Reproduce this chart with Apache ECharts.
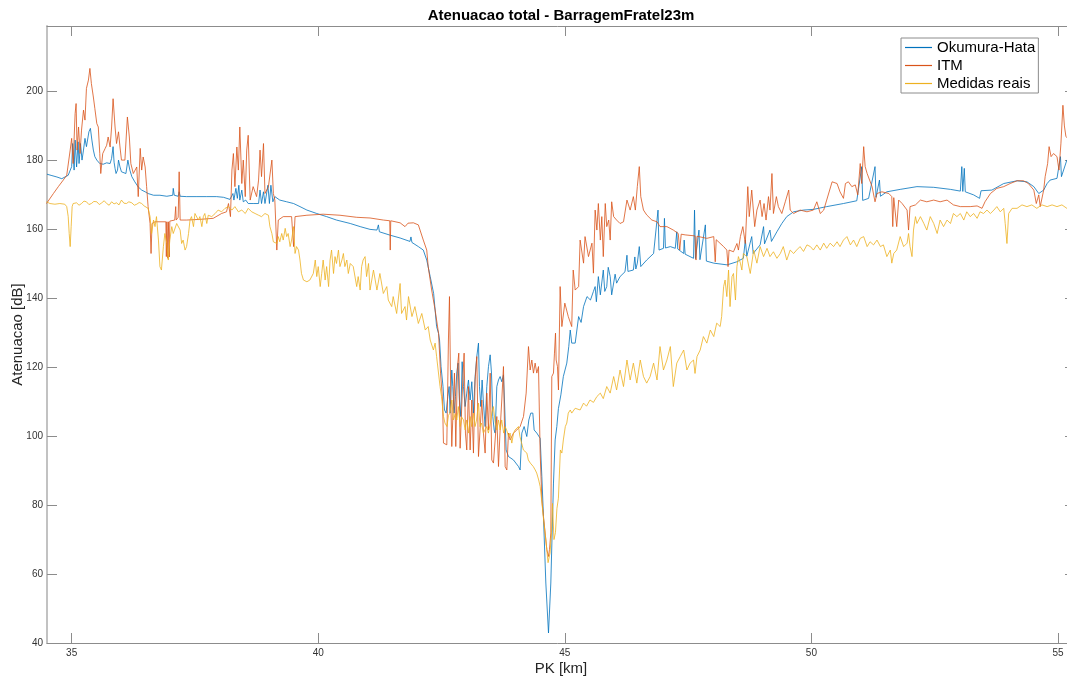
<!DOCTYPE html>
<html>
<head>
<meta charset="utf-8">
<script src="https://cdn.jsdelivr.net/npm/echarts@6/dist/echarts.min.js"></script>
<style>
html,body{margin:0;padding:0;background:#fff;}
#chart{width:1067px;height:680px;}
</style>
</head>
<body>
<div id="chart"></div>
<script>
// ---------------- data: [PK km, attenuation dB] ----------------
const okumuraHata = [
[34.50,176.0],[34.60,175.6],[34.70,175.2],[34.80,174.7],[34.93,175.7],[35.00,178.2],[35.02,184.9],[35.05,177.2],[35.07,185.9],[35.10,178.1],[35.13,185.4],[35.15,179.1],[35.18,184.9],[35.21,180.1],[35.24,183.0],[35.27,186.4],[35.30,184.0],[35.35,188.3],[35.38,189.3],[35.41,185.9],[35.44,183.0],[35.47,181.1],[35.51,180.1],[35.54,179.6],[35.57,179.1],[35.64,178.9],[35.71,179.3],[35.78,179.1],[35.81,180.6],[35.84,184.0],[35.86,179.5],[35.88,177.7],[35.90,176.2],[35.93,177.2],[35.95,180.1],[35.98,178.1],[36.01,176.7],[36.05,177.2],[36.10,176.2],[36.14,180.1],[36.18,177.2],[36.22,175.3],[36.28,173.8],[36.35,172.3],[36.42,171.4],[36.49,170.9],[36.55,170.4],[36.66,169.9],[36.79,169.9],[36.93,169.6],[37.05,169.9],[37.06,171.9],[37.08,169.9],[37.16,169.6],[37.18,170.9],[37.20,169.6],[37.33,169.5],[37.54,169.5],[37.74,169.5],[37.94,169.5],[38.08,169.3],[38.21,168.7],[38.27,170.4],[38.29,168.5],[38.33,171.9],[38.36,169.0],[38.39,172.8],[38.41,168.5],[38.45,171.4],[38.48,168.0],[38.53,168.5],[38.58,167.5],[38.68,167.5],[38.79,167.5],[38.82,171.4],[38.85,167.5],[38.89,170.9],[38.92,167.5],[38.98,172.8],[39.01,167.5],[39.04,172.8],[39.08,168.0],[39.12,169.5],[39.22,168.5],[39.36,168.0],[39.50,167.5],[39.63,166.6],[39.77,165.6],[39.97,164.6],[40.17,163.7],[40.37,162.7],[40.65,161.7],[40.85,160.8],[41.05,160.0],[41.19,159.8],[41.22,161.3],[41.24,159.3],[41.46,158.3],[41.66,157.5],[41.86,156.5],[41.88,157.8],[41.90,156.2],[42.03,155.0],[42.13,154.0],[42.20,151.1],[42.27,146.3],[42.34,141.4],[42.37,136.6],[42.40,131.8],[42.44,129.8],[42.46,127.9],[42.49,120.2],[42.53,114.4],[42.56,107.6],
[42.593,106.7],[42.627,111.5],[42.654,114.4],[42.674,106.7],[42.708,119.2],[42.728,114.4],[42.755,106.7],[42.782,111.5],[42.809,118.3],[42.836,121.2],[42.863,110.5],[42.891,105.7],[42.918,121.6],[42.945,114.4],[42.978,108.6],[43.012,112.5],[43.046,116.3],[43.080,110.5],[43.114,115.8],[43.147,106.7],[43.181,117.3],[43.215,123.1],[43.249,127.0],[43.269,114.4],[43.296,108.6],[43.323,116.3],[43.350,109.6],[43.384,102.8],[43.418,114.4],[43.452,120.2],[43.486,123.6],[43.513,118.3],[43.540,105.7],[43.567,101.8],[43.587,100.9],[43.621,114.4],[43.655,116.3],[43.688,117.3],[43.722,115.8],[43.756,117.8],[43.776,110.5],[43.810,96.0],[43.857,94.1],[43.959,93.1],[44.060,91.2],[44.094,90.2],[44.128,100.9],[44.175,102.8],[44.229,99.9],[44.270,104.7],[44.310,106.7],[44.351,106.7],[44.378,101.8],[44.432,100.9],[44.500,99.4],[44.534,88.3],[44.567,76.7],[44.615,57.4],[44.669,42.9],[44.716,57.4],[44.750,75.7],[44.770,86.4],[44.804,98.9],[44.838,102.8],[44.87,108.0],[44.92,112.0],[44.97,117.3],[45.04,121.2],[45.08,126.0],[45.11,130.8],[45.14,127.0],[45.21,127.0],[45.28,134.7],[45.33,133.0],[45.38,137.6],[45.45,140.5],[45.52,139.5],[45.58,142.0],[45.615,143.4],[45.64,139.0],[45.68,146.3],[45.72,141.0],[45.75,140.5],[45.78,148.2],[45.81,142.0],[45.85,143.4],[45.88,149.0],[45.92,146.3],[45.95,141.0],[45.99,140.5],[46.02,147.0],[46.05,144.4],[46.12,146.3],[46.22,147.7],[46.26,152.5],[46.28,147.8],[46.39,148.2],[46.42,152.0],[46.44,148.5],[46.47,150.2],[46.51,155.0],[46.54,149.2],[46.66,151.1],[46.80,153.0],[46.89,165.6],[46.91,154.0],[47.00,154.5],[47.02,163.2],[47.04,154.6],[47.14,155.0],[47.24,154.5],[47.27,159.3],[47.29,154.3],[47.41,153.0],[47.42,156.9],[47.44,152.8],[47.61,151.6],[47.63,165.6],[47.65,151.5],[47.72,159.8],[47.74,151.2],[47.85,161.3],[47.87,150.8],[48.02,150.2],[48.29,149.7],[48.49,150.6],[48.62,151.6],[48.66,156.9],[48.69,152.2],[48.73,152.6],[48.79,157.9],[48.82,153.0],[48.86,153.5],[48.96,155.5],[49.03,160.8],[49.05,155.8],[49.08,155.9],[49.16,159.8],[49.19,156.5],[49.23,156.9],[49.30,159.3],[49.40,161.7],[49.50,163.7],[49.64,165.1],[49.84,165.6],[50.04,165.8],[50.31,166.6],[50.65,167.5],[50.92,168.3],[51.02,178.2],[51.04,168.4],[51.16,169.0],[51.29,178.2],[51.31,169.3],[51.38,174.3],[51.40,169.6],[51.53,170.9],[51.80,171.6],[52.14,172.4],[52.48,172.2],[52.82,171.6],[53.02,171.1],[53.05,178.2],[53.07,171.0],[53.10,177.7],[53.12,170.9],[53.29,170.0],[53.41,169.0],[53.44,171.2],[53.66,171.4],[53.90,173.3],[54.17,174.1],[54.37,173.8],[54.51,172.4],[54.61,170.4],[54.71,171.4],[54.78,173.3],[54.84,174.3],[54.98,174.8],[55.05,181.1],[55.07,175.3],[55.18,180.1],[55.30,181.0]
];

const itm = [
[34.49,167.5],[34.63,170.4],[34.73,172.4],[34.83,174.3],[34.90,175.7],[34.97,183.0],[35.00,186.4],[35.03,179.1],[35.07,193.6],[35.09,196.5],[35.11,183.0],[35.14,189.7],[35.17,182.0],[35.20,188.8],[35.24,194.6],[35.27,191.7],[35.30,200.9],[35.34,203.3],[35.37,206.7],[35.40,202.3],[35.44,198.4],[35.47,195.1],[35.51,190.7],[35.54,189.7],[35.57,182.0],[35.59,176.2],[35.63,182.0],[35.68,183.5],[35.71,184.4],[35.74,186.8],[35.78,183.9],[35.81,189.7],[35.84,197.9],[35.88,189.7],[35.91,184.9],[35.95,188.3],[35.98,183.9],[36.01,180.1],[36.08,180.1],[36.13,192.6],[36.17,186.8],[36.20,179.1],[36.25,176.2],[36.32,178.1],[36.35,169.5],[36.39,183.5],[36.42,177.2],[36.45,181.0],[36.49,178.1],[36.52,172.4],[36.55,166.6],[36.59,161.7],[36.61,153.0],[36.63,161.7],[36.69,162.2],[36.79,162.2],[36.91,162.2],[36.92,152.1],[36.93,162.2],[36.95,151.6],[36.96,162.2],[36.98,152.0],[36.99,162.4],[37.09,162.7],[37.11,166.6],[37.12,162.7],[37.16,163.5],[37.18,176.7],[37.20,162.7],[37.33,162.7],[37.60,162.9],[37.87,163.2],[38.04,164.6],[38.14,165.1],[38.18,167.5],[38.22,163.7],[38.25,177.2],[38.28,182.0],[38.31,172.4],[38.35,183.9],[38.38,177.2],[38.41,189.7],[38.45,173.3],[38.48,180.1],[38.52,169.5],[38.55,183.0],[38.58,187.3],[38.62,168.5],[38.68,172.4],[38.75,169.5],[38.79,174.3],[38.82,183.0],[38.85,175.3],[38.89,184.9],[38.92,170.4],[38.99,172.4],[39.06,180.1],[39.09,170.4],[39.12,168.5],[39.16,154.0],[39.19,162.7],[39.29,163.7],[39.46,163.7],[39.50,155.0],[39.53,163.7],[39.77,164.1],[40.10,164.4],[40.44,164.1],[40.78,163.5],[41.05,163.3],[41.32,162.7],[41.45,162.5],[41.46,154.0],[41.47,162.5],[41.66,161.9],[41.76,160.8],[41.82,161.8],[41.93,161.9],[42.03,161.3],[42.07,160.8],[42.13,156.9],[42.20,154.0],[42.23,149.2],[42.30,142.4],[42.37,136.6],[42.44,129.8],[42.48,118.3],[42.52,110.5],
[42.539,98.0],[42.607,97.5],[42.640,127.9],[42.661,140.5],[42.688,110.5],[42.708,97.0],[42.742,97.0],[42.762,118.3],[42.789,97.0],[42.823,120.2],[42.850,124.1],[42.877,96.5],[42.911,96.5],[42.931,116.3],[42.958,124.1],[42.985,100.9],[43.012,96.0],[43.046,114.4],[43.080,96.0],[43.114,110.5],[43.147,95.1],[43.181,116.3],[43.215,123.1],[43.249,94.1],[43.283,94.1],[43.317,110.5],[43.350,100.9],[43.384,95.1],[43.418,112.5],[43.452,101.8],[43.486,118.3],[43.519,93.1],[43.553,92.2],[43.587,92.2],[43.621,105.7],[43.655,91.2],[43.688,101.8],[43.722,110.5],[43.756,120.2],[43.790,91.2],[43.824,90.2],[43.857,100.9],[43.891,98.9],[43.959,100.9],[44.027,101.8],[44.094,102.8],[44.162,105.7],[44.216,112.5],[44.263,126.0],[44.297,119.2],[44.331,122.1],[44.364,118.3],[44.398,121.2],[44.432,118.3],[44.466,120.2],[44.500,95.1],[44.534,81.5],[44.567,76.7],[44.601,71.9],[44.635,67.1],[44.669,65.1],[44.689,67.1],[44.716,71.9],[44.736,117.3],[44.770,118.3],[44.790,124.1],[44.811,129.9],[44.824,122.1],[44.851,120.2],[44.871,113.4],
[44.905,143.4],[44.94,131.8],[45.00,138.6],[45.07,134.7],[45.14,131.8],[45.17,148.2],[45.21,142.4],[45.28,143.4],[45.31,156.9],[45.38,150.2],[45.41,157.9],[45.48,152.1],[45.55,156.0],[45.58,147.3],[45.615,165.6],[45.65,159.8],[45.68,167.5],[45.72,156.9],[45.75,163.7],[45.78,152.1],[45.82,167.5],[45.85,160.8],[45.89,162.7],[45.92,156.9],[45.95,168.0],[45.99,163.7],[46.05,162.7],[46.12,161.7],[46.19,162.2],[46.26,168.5],[46.325,165.6],[46.39,169.5],[46.43,165.6],[46.47,172.4],[46.51,178.2],[46.54,169.5],[46.595,165.6],[46.66,164.2],[46.765,162.7],[46.87,162.2],[46.93,160.8],[47.07,160.8],[47.20,159.8],[47.30,158.8],[47.33,154.0],[47.36,158.6],[47.44,158.4],[47.64,158.1],[47.66,151.1],[47.68,158.0],[47.88,157.4],[48.02,157.9],[48.05,150.6],[48.07,157.0],[48.22,155.0],[48.285,154.0],[48.31,149.2],[48.33,154.0],[48.42,153.5],[48.49,155.9],[48.52,154.0],[48.56,157.9],[48.61,160.8],[48.66,155.9],[48.71,172.4],[48.74,163.7],[48.79,171.4],[48.85,160.8],[48.895,165.6],[48.96,168.5],[49.00,163.7],[49.04,167.5],[49.08,162.7],[49.13,169.5],[49.16,165.6],[49.20,176.2],[49.23,164.6],[49.29,169.5],[49.33,166.6],[49.40,164.6],[49.47,168.0],[49.54,171.4],[49.57,165.6],[49.64,164.6],[49.77,165.6],[49.91,165.1],[50.04,165.6],[50.11,168.0],[50.18,164.6],[50.25,165.6],[50.31,168.5],[50.42,173.8],[50.52,173.3],[50.58,170.9],[50.65,169.0],[50.69,173.3],[50.75,173.8],[50.82,172.4],[50.89,172.9],[50.94,170.0],[50.99,179.1],[51.02,173.3],[51.06,184.0],[51.09,178.2],[51.13,176.2],[51.23,172.4],[51.29,168.0],[51.33,170.4],[51.43,170.9],[51.57,170.4],[51.63,169.5],[51.65,160.8],[51.67,169.2],[51.73,160.8],[51.77,168.5],[51.84,167.5],[51.94,165.6],[51.97,159.8],[52.00,166.6],[52.11,167.1],[52.21,168.5],[52.34,168.0],[52.48,168.5],[52.61,168.0],[52.75,168.5],[52.88,167.1],[53.02,166.6],[53.22,166.6],[53.36,166.8],[53.46,166.1],[53.52,168.0],[53.63,170.4],[53.76,171.9],[53.90,172.4],[54.03,173.3],[54.17,174.1],[54.30,174.1],[54.40,173.3],[54.51,171.4],[54.56,167.5],[54.61,170.0],[54.64,166.6],[54.71,171.4],[54.74,175.3],[54.79,179.1],[54.82,184.0],[54.86,181.1],[54.91,182.0],[54.98,181.1],[55.02,177.2],[55.06,185.0],[55.10,196.0],[55.13,190.0],[55.16,187.0],[55.22,186.0],[55.30,188.0]
];

const medidasReais = [
[34.49,168.0],[34.56,167.5],[34.66,167.3],[34.76,167.5],[34.86,167.3],[34.90,166.6],[34.93,163.7],[34.95,158.8],[34.97,155.0],[34.99,160.8],[35.01,166.6],[35.03,167.5],[35.10,167.7],[35.15,167.0],[35.20,167.5],[35.25,168.2],[35.30,168.0],[35.35,167.2],[35.40,167.5],[35.45,168.1],[35.51,168.0],[35.56,167.2],[35.61,167.7],[35.66,168.3],[35.71,167.5],[35.76,167.0],[35.81,168.0],[35.86,167.4],[35.91,167.7],[35.96,167.1],[36.01,168.5],[36.06,167.6],[36.11,167.5],[36.16,168.0],[36.22,167.7],[36.27,167.0],[36.32,167.3],[36.37,167.8],[36.42,167.5],[36.47,166.8],[36.51,166.6],[36.55,166.1],[36.59,163.7],[36.62,158.8],[36.66,162.7],[36.69,160.8],[36.72,163.7],[36.76,156.9],[36.79,149.2],[36.82,148.2],[36.86,155.0],[36.89,158.8],[36.93,155.9],[36.96,151.1],[36.99,156.9],[37.03,160.8],[37.06,158.8],[37.13,161.7],[37.20,159.8],[37.23,155.9],[37.26,156.9],[37.30,154.0],[37.33,155.0],[37.37,158.8],[37.40,162.7],[37.43,163.7],[37.47,160.8],[37.50,164.6],[37.54,165.1],[37.57,162.7],[37.60,163.7],[37.64,160.8],[37.67,163.7],[37.70,164.6],[37.74,161.7],[37.77,164.1],[37.84,163.7],[37.91,164.6],[37.97,165.6],[38.04,165.1],[38.11,166.1],[38.18,166.6],[38.25,165.6],[38.31,166.6],[38.38,165.1],[38.45,165.6],[38.52,164.6],[38.58,166.1],[38.65,165.1],[38.72,164.6],[38.79,164.1],[38.85,163.7],[38.92,164.6],[38.99,164.1],[39.02,160.8],[39.06,158.8],[39.09,156.4],[39.12,156.9],[39.16,155.9],[39.19,157.9],[39.22,156.4],[39.26,158.8],[39.29,156.9],[39.33,160.3],[39.36,157.9],[39.39,158.8],[39.43,155.0],[39.46,156.9],[39.50,160.8],[39.53,153.0],[39.56,155.0],[39.60,154.0],[39.63,151.1],[39.66,147.2],[39.70,145.3],[39.77,144.8],[39.83,145.3],[39.90,147.2],[39.94,151.1],[39.97,146.3],[40.00,149.2],[40.04,143.4],[40.07,147.2],[40.10,151.1],[40.14,145.3],[40.17,149.2],[40.21,143.4],[40.24,151.1],[40.27,154.0],[40.31,147.2],[40.34,152.1],[40.37,150.1],[40.41,154.0],[40.44,149.2],[40.48,151.1],[40.51,153.0],[40.54,149.2],[40.58,151.1],[40.61,147.2],[40.65,150.1],[40.71,149.2],[40.78,143.4],[40.81,146.3],[40.85,142.4],[40.88,149.2],[40.91,151.1],[40.95,152.1],[40.98,146.3],[41.02,150.1],[41.05,142.4],[41.12,148.2],[41.19,142.4],[41.25,147.2],[41.32,141.4],[41.39,143.4],[41.42,139.5],[41.49,137.6],[41.52,140.5],[41.59,135.6],[41.66,144.3],[41.69,135.6],[41.76,137.6],[41.79,133.7],[41.83,140.5],[41.90,134.7],[41.96,137.6],[42.03,132.7],[42.10,135.6],[42.17,130.8],[42.23,131.8],[42.27,127.9],[42.335,125.0],[42.37,127.0],[42.40,123.1],[42.47,114.4],[42.50,111.5],[42.54,105.7],[42.57,103.8],[42.61,102.8],[42.64,106.0],[42.67,106.7],[42.71,110.5],[42.74,104.7],[42.78,106.5],[42.81,104.7],[42.84,108.6],[42.88,102.8],[42.91,105.5],[42.945,104.7],[42.98,101.8],[43.01,104.7],[43.05,100.9],[43.08,105.7],[43.11,102.8],[43.15,106.7],[43.18,102.8],[43.21,104.7],[43.25,109.6],[43.28,102.8],[43.31,103.8],[43.35,100.9],[43.38,101.8],[43.42,102.8],[43.45,100.9],[43.49,103.8],[43.52,106.7],[43.55,108.6],[43.59,103.8],[43.62,101.8],[43.655,104.7],[43.69,101.8],[43.72,104.7],[43.76,100.9],[43.79,102.8],[43.82,101.8],[43.86,99.9],[43.89,100.9],[43.925,98.0],[43.96,100.9],[43.99,101.8],[44.03,101.8],[44.06,102.8],[44.09,99.9],[44.16,96.0],[44.23,95.1],[44.26,93.1],[44.30,92.2],[44.36,91.2],[44.40,90.2],[44.43,89.3],[44.47,87.3],[44.50,85.4],[44.53,81.5],[44.57,75.7],[44.60,71.9],[44.635,67.1],[44.66,63.3],[44.70,66.1],[44.73,72.0],[44.75,80.5],[44.78,70.0],[44.81,72.0],[44.84,79.0],[44.87,82.0],[44.91,96.0],[44.94,95.1],[44.97,98.9],[45.01,102.8],[45.04,103.8],[45.07,106.7],[45.11,107.6],[45.14,106.7],[45.17,106.2],[45.21,108.1],[45.24,108.6],[45.31,107.6],[45.38,109.6],[45.44,108.7],[45.51,110.5],[45.58,109.8],[45.65,111.5],[45.72,112.5],[45.78,110.9],[45.85,114.4],[45.92,112.5],[45.99,117.3],[46.05,113.4],[46.12,119.2],[46.19,114.4],[46.26,122.1],[46.325,116.3],[46.39,121.2],[46.46,115.4],[46.53,122.1],[46.595,117.3],[46.66,115.4],[46.73,117.3],[46.80,121.2],[46.87,116.3],[46.93,126.0],[47.00,119.2],[47.07,122.1],[47.14,126.0],[47.20,114.4],[47.27,121.2],[47.34,123.1],[47.41,125.0],[47.475,119.2],[47.54,121.2],[47.61,122.1],[47.64,118.2],[47.68,123.1],[47.745,125.0],[47.81,128.9],[47.88,127.0],[47.95,130.8],[48.02,128.9],[48.08,132.8],[48.15,131.8],[48.18,134.7],[48.22,143.4],[48.25,145.3],[48.285,140.5],[48.32,148.2],[48.35,137.6],[48.39,146.3],[48.42,147.2],[48.46,139.5],[48.49,149.2],[48.52,152.1],[48.56,150.2],[48.59,148.2],[48.62,153.0],[48.69,152.1],[48.76,147.2],[48.83,154.0],[48.895,150.2],[48.96,155.0],[49.03,152.1],[49.10,154.5],[49.16,152.1],[49.23,153.5],[49.30,151.6],[49.37,153.0],[49.43,155.0],[49.50,151.1],[49.57,154.0],[49.64,153.0],[49.70,154.0],[49.77,155.0],[49.84,153.6],[49.91,155.5],[49.98,155.0],[50.04,154.0],[50.11,155.5],[50.18,154.0],[50.25,156.0],[50.31,154.5],[50.38,156.0],[50.45,155.0],[50.52,156.4],[50.58,155.0],[50.65,156.9],[50.72,157.9],[50.79,155.5],[50.855,156.9],[50.92,155.0],[50.99,157.4],[51.06,157.9],[51.13,155.0],[51.19,156.4],[51.26,155.5],[51.33,156.9],[51.40,155.0],[51.46,155.5],[51.53,152.1],[51.60,154.0],[51.63,150.2],[51.67,153.0],[51.73,154.0],[51.80,157.9],[51.87,155.0],[51.94,156.0],[51.97,158.8],[52.00,155.0],[52.04,152.1],[52.07,159.8],[52.11,163.7],[52.14,161.7],[52.21,163.7],[52.28,161.7],[52.34,159.8],[52.41,163.7],[52.48,161.7],[52.55,158.8],[52.61,162.7],[52.68,160.8],[52.75,162.7],[52.82,161.7],[52.88,164.6],[52.95,163.7],[53.02,164.6],[53.09,162.7],[53.15,165.1],[53.22,163.7],[53.29,164.6],[53.36,163.2],[53.42,165.1],[53.49,164.6],[53.56,165.6],[53.63,164.6],[53.70,165.6],[53.76,166.6],[53.83,165.1],[53.90,166.1],[53.93,161.7],[53.965,155.9],[54.00,164.6],[54.07,166.1],[54.17,166.1],[54.27,167.1],[54.37,166.6],[54.47,167.1],[54.57,166.1],[54.675,167.1],[54.78,166.6],[54.88,167.1],[54.98,166.6],[55.08,167.1],[55.18,166.1],[55.30,166.5]
];

const xTicks = [35, 40, 45, 50, 55];
const yTicks = [40, 60, 80, 100, 120, 140, 160, 180, 200];
const seriesNames = ['Okumura-Hata', 'ITM', 'Medidas reais'];
const seriesColors = ['#0072BD', '#D95319', '#EDB120'];

// ---------------- chart ----------------
const FONT = '"Liberation Sans", Arial, Helvetica, sans-serif';
const AX = '#8c8c8c';
const chart = echarts.init(document.getElementById('chart'), null, {renderer: 'canvas'});

function xAxisDef(pos) {
  const bottom = pos === 'bottom';
  return {
    type: 'value', position: pos, min: 34.5, max: 55.345,
    axisLine: {show: true, lineStyle: {color: AX, width: 1}},
    axisTick: {show: true, inside: true, length: 10, lineStyle: {color: AX}, customValues: xTicks},
    axisLabel: {show: bottom, customValues: xTicks, fontSize: 10, color: '#333', margin: 5, fontFamily: FONT},
    splitLine: {show: false},
    name: bottom ? 'PK [km]' : '', nameLocation: 'middle', nameGap: 18, nameMoveOverlap: false,
    nameTextStyle: {fontSize: 15, color: '#262626', fontFamily: FONT}
  };
}
function yAxisDef(pos) {
  const left = pos === 'left';
  return {
    type: 'value', position: pos, min: 40, max: 219,
    axisLine: {show: true, lineStyle: {color: left ? '#c2c2c2' : AX, width: left ? 2 : 1}},
    axisTick: {show: true, inside: true, length: 10, lineStyle: {color: AX}, customValues: yTicks},
    axisLabel: {show: left, customValues: yTicks, fontSize: 10, color: '#333', margin: 4, fontFamily: FONT},
    splitLine: {show: false},
    name: left ? 'Atenuacao [dB]' : '', nameLocation: 'middle', nameGap: 22, nameMoveOverlap: false,
    nameTextStyle: {fontSize: 15, color: '#262626', fontFamily: FONT}
  };
}

const dataSets = [okumuraHata, itm, medidasReais];

chart.setOption({
  animation: false,
  backgroundColor: '#ffffff',
  title: {
    text: 'Atenuacao total - BarragemFratel23m',
    left: 556, top: 3, textAlign: 'center',
    textStyle: {fontSize: 15, fontWeight: 'bold', color: '#000', fontFamily: FONT}
  },
  grid: {left: 47, right: -8, top: 26, bottom: 37, containLabel: false, outerBoundsMode: 'none'},
  xAxis: [xAxisDef('bottom'), xAxisDef('top')],
  yAxis: [yAxisDef('left'), yAxisDef('right')],
  legend: {
    orient: 'vertical', left: 901, top: 38,
    padding: [2, 3, 2, 4], itemGap: 3, itemWidth: 27, itemHeight: 1.2,
    icon: 'rect',
    backgroundColor: '#fff', borderColor: AX, borderWidth: 1, borderRadius: 0,
    textStyle: {fontSize: 15, color: '#000', fontFamily: FONT, lineHeight: 15},
    data: seriesNames
  },
  series: dataSets.map((d, i) => ({
    name: seriesNames[i], type: 'line', data: d,
    xAxisIndex: 0, yAxisIndex: 0,
    symbol: 'none', showSymbol: false, sampling: null,
    color: seriesColors[i],
    lineStyle: {width: 0.8, color: seriesColors[i]},
    z: 2 + i
  }))
});
</script>
</body>
</html>
